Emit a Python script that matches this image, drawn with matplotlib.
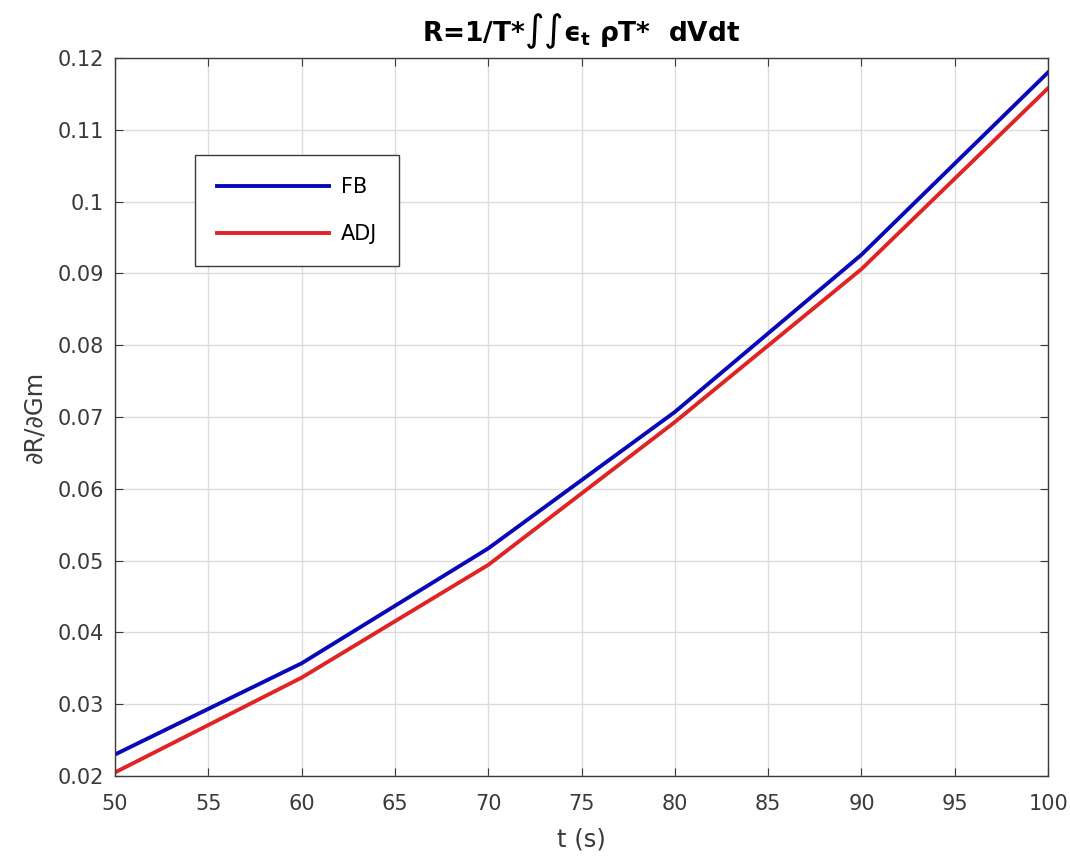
import matplotlib
matplotlib.use('Agg')
import matplotlib.pyplot as plt

t = [50, 60, 70, 80, 90, 100]
fb = [0.0230, 0.0357, 0.0517, 0.0707, 0.0926, 0.1180]
adj = [0.0205, 0.0337, 0.0494, 0.0693, 0.0906, 0.1158]

xticks = list(range(50, 101, 5))
yticks = [0.02, 0.03, 0.04, 0.05, 0.06, 0.07, 0.08, 0.09, 0.1, 0.11, 0.12]
ytick_labels = ['0.02', '0.03', '0.04', '0.05', '0.06', '0.07', '0.08', '0.09', '0.1', '0.11', '0.12']

plt.rcParams['font.family'] = ['DejaVu Sans']
plt.rcParams['mathtext.fontset'] = 'dejavusans'

fig = plt.figure(figsize=(10.7, 8.63), dpi=100)
ax = fig.add_axes([0.1075, 0.1008, 0.872, 0.832])

ax.plot(t, fb, color='#0808b8', lw=2.8, label='FB')
ax.plot(t, adj, color='#e02424', lw=2.8, label='ADJ')

ax.set_xlim(50, 100)
ax.set_ylim(0.02, 0.12)
ax.set_xticks(xticks)
ax.set_yticks(yticks)
ax.set_yticklabels(ytick_labels)
ax.grid(True, color='#dcdcdc', lw=1)
ax.tick_params(direction='in', top=True, right=True, labelsize=15,
               colors='#3a3a3a', length=6)
ax.tick_params(axis='x', pad=13)
ax.tick_params(axis='y', pad=8)
for s in ax.spines.values():
    s.set_color('#3a3a3a')
    s.set_linewidth(1)

ax.set_xlabel('t (s)', fontsize=17.5, color='#3a3a3a', labelpad=10)
ax.set_ylabel('∂R/∂Gm', fontsize=17.5, color='#3a3a3a', labelpad=8)
ax.set_title(r'R=1/T*∫∫ϵ$_\mathbf{t}$ ρT*  dVdt', fontsize=19, fontweight='bold', pad=12)

leg = ax.legend(loc='upper left', bbox_to_anchor=(0.0857, 0.865), fontsize=15,
                handlelength=5.4, handletextpad=0.55, borderpad=1.05, labelspacing=1.3,
                borderaxespad=0, fancybox=False, framealpha=1)
leg.get_frame().set_edgecolor('#3a3a3a')
leg.get_frame().set_linewidth(1)

fig.savefig('out.png', dpi=100, facecolor='white')
